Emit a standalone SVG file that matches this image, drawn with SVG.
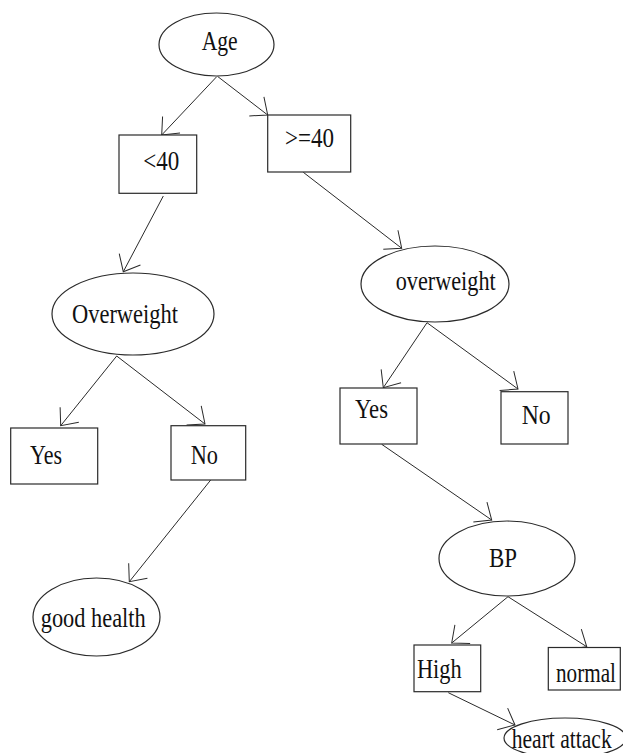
<svg xmlns="http://www.w3.org/2000/svg" width="623" height="753" viewBox="0 0 623 753">
<defs>
<style>
.n{fill:#fff;stroke:#2a2a2a;stroke-width:1.2}
.t{font-family:"Liberation Serif","Times New Roman",serif;font-size:22px;fill:#111}
.e{fill:none;stroke:#2a2a2a;stroke-width:1;marker-end:url(#ah)}
</style>
<marker id="ah" markerUnits="userSpaceOnUse" markerWidth="40" markerHeight="40" refX="0" refY="0" viewBox="-20 -20 40 40" orient="auto" overflow="visible">
<path d="M-14,-12 L0,0 L-14,12" fill="none" stroke="#2a2a2a" stroke-width="1"/>
</marker>
</defs>
<rect width="623" height="753" fill="#fff"/>
<g id="connectors">
<line class="e" x1="216.7" y1="76.7" x2="161.7" y2="135"/>
<line class="e" x1="217.7" y1="76.5" x2="267.7" y2="115"/>
<line class="e" x1="163.3" y1="196" x2="123.3" y2="271.7"/>
<line class="e" x1="303.3" y1="172.3" x2="401.7" y2="248.3"/>
<line class="e" x1="116.7" y1="356" x2="60.7" y2="425.7"/>
<line class="e" x1="116.7" y1="356" x2="205" y2="424"/>
<line class="e" x1="210.7" y1="480" x2="129.3" y2="581.7"/>
<line class="e" x1="427" y1="322.7" x2="383.3" y2="387.7"/>
<line class="e" x1="427" y1="322.7" x2="518" y2="389"/>
<line class="e" x1="381.7" y1="444.3" x2="491.7" y2="520"/>
<line class="e" x1="508" y1="596.7" x2="451.7" y2="643"/>
<line class="e" x1="508" y1="596.7" x2="586.7" y2="646.7"/>
<line class="e" x1="448.3" y1="692.7" x2="515" y2="725"/>
</g>
<g id="age"><ellipse class="n" cx="216.5" cy="44.5" rx="57.5" ry="31.5"/><text class="t" x="201.7" y="50" transform="matrix(1,0,0,1.25,0,-12.5)" textLength="36" lengthAdjust="spacingAndGlyphs">Age</text></g>
<g id="lt40"><rect class="n" x="119" y="135" width="77.7" height="58.3"/><text class="t" x="143.3" y="170" transform="matrix(1,0,0,1.25,0,-42.5)" textLength="36" lengthAdjust="spacingAndGlyphs">&lt;40</text></g>
<g id="ge40"><rect class="n" x="267.7" y="115" width="83" height="57"/><text class="t" x="285" y="146.7" transform="matrix(1,0,0,1.25,0,-36.675)" textLength="49" lengthAdjust="spacingAndGlyphs">&gt;=40</text></g>
<g id="overweight-left"><ellipse class="n" cx="133" cy="314" rx="81" ry="41"/><text class="t" x="72" y="323" transform="matrix(1,0,0,1.25,0,-80.75)" textLength="106" lengthAdjust="spacingAndGlyphs">Overweight</text></g>
<g id="yes-left"><rect class="n" x="10.7" y="428" width="87" height="56"/><text class="t" x="30" y="464" transform="matrix(1,0,0,1.25,0,-116)" textLength="32" lengthAdjust="spacingAndGlyphs">Yes</text></g>
<g id="no-left"><rect class="n" x="171" y="425.7" width="74.7" height="54.3"/><text class="t" x="190.7" y="464" transform="matrix(1,0,0,1.25,0,-116)" textLength="27.3" lengthAdjust="spacingAndGlyphs">No</text></g>
<g id="good-health"><ellipse class="n" cx="96.5" cy="617" rx="63.5" ry="39"/><text class="t" x="40.7" y="626.7" transform="matrix(1,0,0,1.25,0,-156.675)" textLength="105" lengthAdjust="spacingAndGlyphs">good health</text></g>
<g id="overweight-right"><ellipse class="n" cx="435" cy="284" rx="74" ry="38"/><text class="t" x="395.7" y="290" transform="matrix(1,0,0,1.25,0,-72.5)" textLength="100" lengthAdjust="spacingAndGlyphs">overweight</text></g>
<g id="yes-right"><rect class="n" x="340" y="388" width="77" height="56"/><text class="t" x="355" y="418.3" transform="matrix(1,0,0,1.25,0,-104.575)" textLength="33" lengthAdjust="spacingAndGlyphs">Yes</text></g>
<g id="no-right"><rect class="n" x="501" y="391.7" width="67" height="52.3"/><text class="t" x="521.7" y="424" transform="matrix(1,0,0,1.25,0,-106)" textLength="29" lengthAdjust="spacingAndGlyphs">No</text></g>
<g id="bp"><ellipse class="n" cx="507" cy="558.5" rx="68" ry="37.5"/><text class="t" x="489" y="567" transform="matrix(1,0,0,1.25,0,-141.75)" textLength="28" lengthAdjust="spacingAndGlyphs">BP</text></g>
<g id="high"><rect class="n" x="414" y="645" width="66.7" height="46.7"/><text class="t" x="417" y="677.7" transform="matrix(1,0,0,1.25,0,-169.425)" textLength="44.7" lengthAdjust="spacingAndGlyphs">High</text></g>
<g id="normal"><rect class="n" x="548.3" y="647.5" width="72" height="42.5"/><text class="t" x="556" y="681.7" transform="matrix(1,0,0,1.25,0,-170.425)" textLength="60" lengthAdjust="spacingAndGlyphs">normal</text></g>
<g id="heart-attack"><ellipse class="n" cx="565" cy="738" rx="61" ry="20"/><text class="t" x="511.7" y="748" transform="matrix(1,0,0,1.25,0,-187)" textLength="100" lengthAdjust="spacingAndGlyphs">heart attack</text></g>
</svg>
